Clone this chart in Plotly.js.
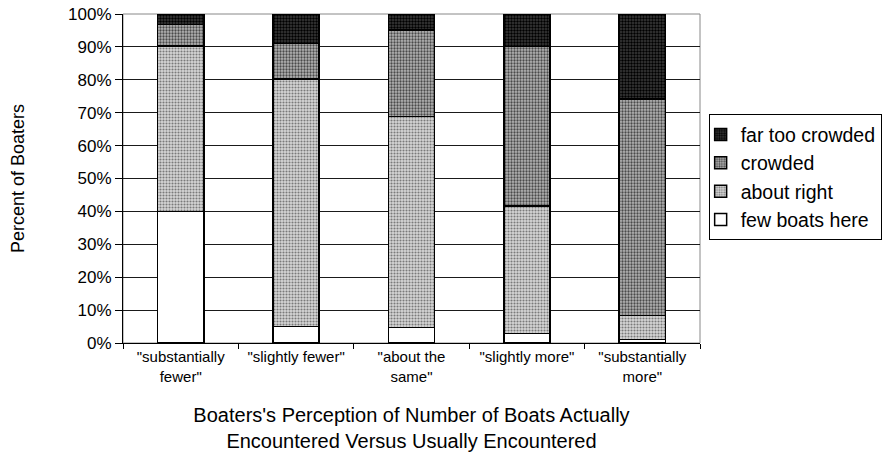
<!DOCTYPE html>
<html>
<head>
<meta charset="utf-8">
<script src="https://cdn.plot.ly/plotly-3.0.1.min.js"></script>
<style>html,body{margin:0;padding:0;background:#fff;}#chart{width:888px;height:461px;}</style>
</head>
<body>
<div id="chart"></div>
<script>
var categories = ['"substantially<br>fewer"', '"slightly fewer"', '"about the<br>same"', '"slightly more"', '"substantially<br>more"'];
var fewBoatsHere = [40.0, 5.0, 4.7, 2.9, 1.1];
var aboutRight = [50.3, 75.2, 64.1, 38.8, 7.2];
var crowded = [6.5, 10.9, 26.3, 48.4, 65.9];
var farTooCrowded = [3.2, 8.9, 4.9, 9.9, 25.8];
var yTickVals = [0, 10, 20, 30, 40, 50, 60, 70, 80, 90, 100];
var yTickText = ['0%', '10%', '20%', '30%', '40%', '50%', '60%', '70%', '80%', '90%', '100%'];

var font = 'Arial, "Liberation Sans", Helvetica, sans-serif';

function series(name, vals, bg, fg, sol, rank) {
  var m = {color: bg, line: {color: '#000', width: 1.5}};
  if (fg) m.pattern = {shape: '.', bgcolor: bg, fgcolor: fg, size: 3, solidity: sol, fillmode: 'replace'};
  return {type: 'bar', name: name, x: categories, y: vals, marker: m, width: 0.4,
          legendgroup: name, legendrank: rank, hoverinfo: 'y+name'};
}

var data = [
  series('few boats here', fewBoatsHere, '#ffffff', null, 0, 4),
  series('about right', aboutRight, '#d6d6d6', '#7a7a7a', 0.4, 3),
  series('crowded', crowded, '#b4b4b4', '#4a4a4a', 0.45, 2),
  series('far too crowded', farTooCrowded, '#3c3c3c', '#000000', 0.5, 1)
];

var layout = {
  width: 888, height: 461,
  margin: {l: 123, r: 188, t: 14, b: 118, autoexpand: false},
  paper_bgcolor: '#fff', plot_bgcolor: '#fff',
  barmode: 'stack',
  font: {family: font, color: '#000'},
  showlegend: true,
  legend: {x: 1.015, xanchor: 'left', y: 0.695, yanchor: 'top',
           traceorder: 'normal', tracegroupgap: 4.5, indentation: -9,
           bordercolor: '#000', borderwidth: 1, bgcolor: '#fff',
           font: {family: font, size: 19.5, color: '#000'}},
  xaxis: {type: 'category', tickson: 'boundaries', ticks: 'outside', ticklen: 5, tickcolor: '#000',
          showline: true, linecolor: '#000', linewidth: 1, showgrid: false,
          tickfont: {family: font, size: 15, color: '#000'},
          title: {text: "Boaters's Perception of Number of Boats Actually<br>Encountered Versus Usually Encountered",
                  font: {family: font, size: 20, color: '#000'}, standoff: 24}},
  yaxis: {range: [0, 100], tickvals: yTickVals, ticktext: yTickText, ticks: 'outside', ticklen: 7,
          tickcolor: '#000', showline: true, linecolor: '#000', linewidth: 1,
          showgrid: true, gridcolor: '#1a1a1a', gridwidth: 1, zeroline: false,
          tickfont: {family: font, size: 17, color: '#000'},
          title: {text: 'Percent of Boaters', font: {family: font, size: 18, color: '#000'}, standoff: 38}},
  shapes: [{type: 'rect', xref: 'paper', yref: 'paper', x0: 0, x1: 1, y0: 0, y1: 1,
            line: {color: '#888', width: 1}, layer: 'below'}]
};

Plotly.newPlot('chart', data, layout, {displayModeBar: false, staticPlot: true});
</script>
</body>
</html>
